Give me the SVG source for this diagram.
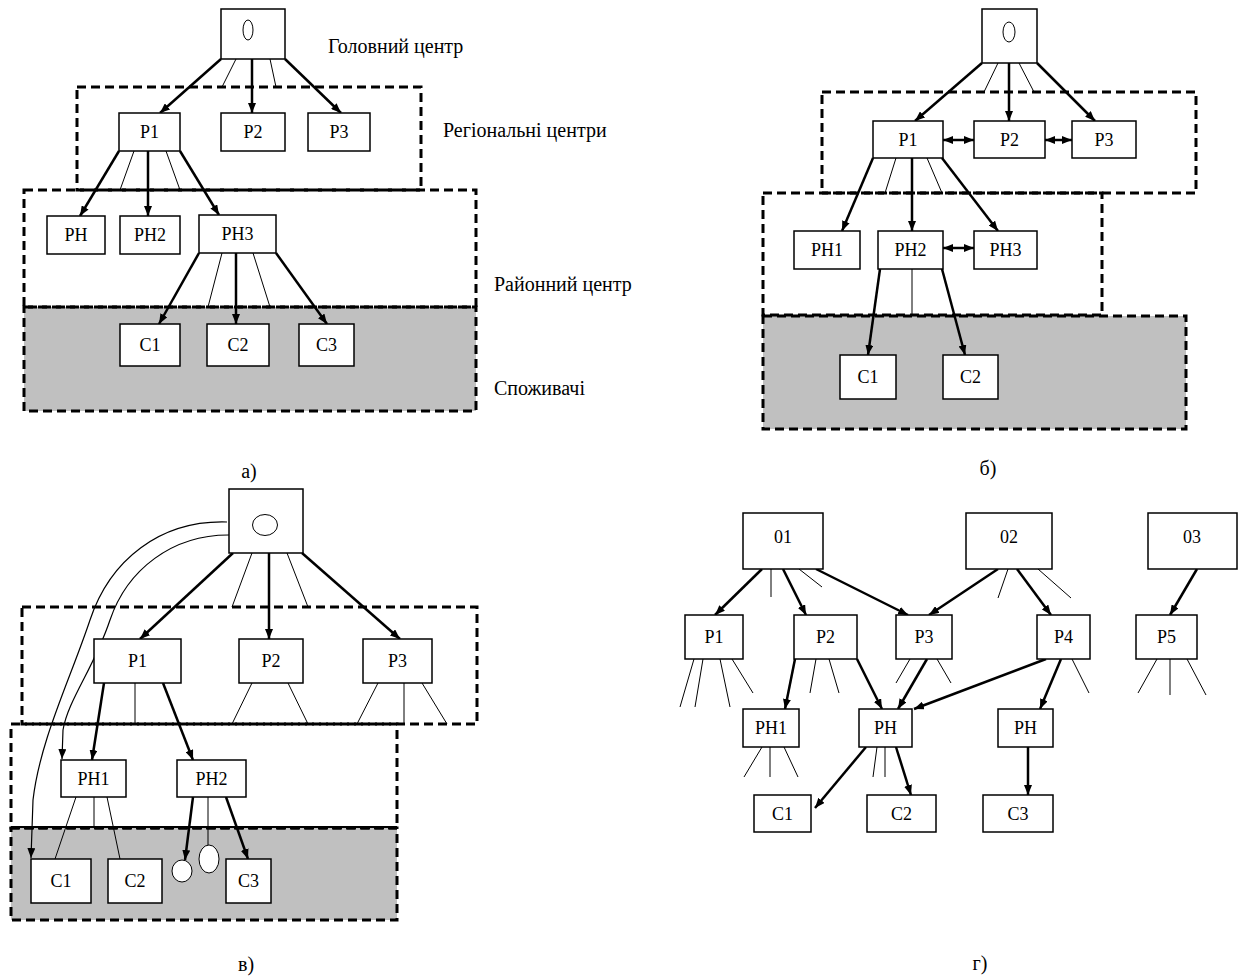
<svg xmlns="http://www.w3.org/2000/svg" width="1239" height="976" viewBox="0 0 1239 976">
<style>
.bx{fill:#fff;stroke:#000;stroke-width:1.5}
.t{font-family:"Liberation Serif",serif;font-size:18px;text-anchor:middle;fill:#000}
.side{font-family:"Liberation Serif",serif;font-size:20px;fill:#000}
.pl{font-family:"Liberation Serif",serif;font-size:20px;text-anchor:middle;fill:#000}
.th{stroke:#000;stroke-width:2.5;fill:none;marker-end:url(#ah)}
.cv{stroke:#000;stroke-width:1.2;fill:none;marker-end:url(#ah)}
.dbl{stroke:#000;stroke-width:2.5;fill:none;marker-end:url(#ah);marker-start:url(#ah)}
.tn{stroke:#000;stroke-width:1;fill:none}
.dash{fill:none;stroke:#000;stroke-width:3;stroke-dasharray:9 5}
.gray{fill:#c0c0c0}
.ov{fill:#fff;stroke:#000;stroke-width:1}
</style>
<defs>
<marker id="ah" viewBox="0 0 10 8" refX="10" refY="4" markerWidth="10" markerHeight="8" markerUnits="userSpaceOnUse" orient="auto-start-reverse">
<path d="M0,0 L10,4 L0,8 z" fill="#000"/>
</marker>
</defs>
<rect width="1239" height="976" fill="#fff"/>

<g id="regions">
<rect class="gray" x="24" y="307" width="452" height="104"/>
<rect class="dash" x="24" y="307" width="452" height="104"/>
<rect class="dash" x="24" y="190" width="452" height="117"/>
<rect class="dash" x="77" y="87" width="344" height="103"/>

<rect class="gray" x="763" y="316" width="423" height="113"/>
<rect class="dash" x="763" y="316" width="423" height="113"/>
<rect class="dash" x="763" y="193" width="339" height="122"/>
<rect class="dash" x="822" y="92" width="374" height="101"/>

<rect class="gray" x="11" y="828" width="386" height="92"/>
<rect class="dash" x="11" y="828" width="386" height="92"/>
<rect class="dash" x="11" y="724" width="386" height="104"/>
<line x1="11" y1="827" x2="397" y2="827" stroke="#000" stroke-width="2"/>
<rect class="dash" x="22" y="607" width="455" height="117"/>
</g>

<g id="labels">
<text class="side" x="328" y="53">Головний центр</text>
<text class="side" x="443" y="137">Регіональні центри</text>
<text class="side" x="494" y="291">Районний центр</text>
<text class="side" x="494" y="395">Споживачі</text>
<text class="pl" x="249" y="478">а)</text>
<text class="pl" x="988" y="475">б)</text>
<text class="pl" x="246" y="971">в)</text>
<text class="pl" x="980" y="970">г)</text>
</g>

<g id="connectors">
<line class="th" x1="221" y1="59" x2="160" y2="113"/>
<line class="th" x1="252" y1="59" x2="252" y2="113"/>
<line class="th" x1="285" y1="59" x2="341" y2="113"/>
<line class="tn" x1="236" y1="59" x2="222" y2="87"/>
<line class="tn" x1="270" y1="59" x2="276" y2="87"/>
<line class="th" x1="119" y1="151" x2="80" y2="216"/>
<line class="th" x1="148" y1="151" x2="148" y2="216"/>
<line class="th" x1="180" y1="151" x2="219" y2="215"/>
<line class="tn" x1="134" y1="151" x2="120" y2="190"/>
<line class="tn" x1="166" y1="151" x2="180" y2="190"/>
<line class="th" x1="199" y1="253" x2="159" y2="324"/>
<line class="th" x1="236" y1="253" x2="236" y2="324"/>
<line class="th" x1="276" y1="253" x2="327" y2="324"/>
<line class="tn" x1="222" y1="253" x2="208" y2="307"/>
<line class="tn" x1="253" y1="253" x2="270" y2="307"/>

<line class="th" x1="982" y1="63" x2="915" y2="121"/>
<line class="th" x1="1009" y1="63" x2="1009" y2="121"/>
<line class="th" x1="1037" y1="63" x2="1095" y2="121"/>
<line class="tn" x1="998" y1="63" x2="984" y2="92"/>
<line class="tn" x1="1019" y1="63" x2="1034" y2="92"/>
<line class="dbl" x1="943" y1="140" x2="974" y2="140"/>
<line class="dbl" x1="1045" y1="140" x2="1072" y2="140"/>
<line class="th" x1="873" y1="158" x2="842" y2="231"/>
<line class="th" x1="912" y1="158" x2="912" y2="231"/>
<line class="th" x1="942" y1="158" x2="998" y2="231"/>
<line class="tn" x1="896" y1="158" x2="885" y2="193"/>
<line class="tn" x1="927" y1="158" x2="942" y2="193"/>
<line class="dbl" x1="943" y1="248" x2="974" y2="248"/>
<line class="th" x1="880" y1="269" x2="868" y2="355"/>
<line class="th" x1="942" y1="269" x2="965" y2="355"/>
<line class="tn" x1="912" y1="269" x2="912" y2="315"/>

<line class="th" x1="233" y1="553" x2="140" y2="639"/>
<line class="th" x1="269" y1="553" x2="269" y2="639"/>
<line class="th" x1="302" y1="553" x2="400" y2="639"/>
<line class="tn" x1="252" y1="553" x2="232" y2="607"/>
<line class="tn" x1="287" y1="553" x2="308" y2="607"/>
<line class="th" x1="104" y1="683" x2="92" y2="760"/>
<line class="tn" x1="135" y1="683" x2="135" y2="724"/>
<line class="th" x1="163" y1="683" x2="193" y2="760"/>
<line class="tn" x1="252" y1="683" x2="232" y2="724"/>
<line class="tn" x1="288" y1="683" x2="308" y2="724"/>
<line class="tn" x1="378" y1="683" x2="357" y2="724"/>
<line class="tn" x1="404" y1="683" x2="404" y2="724"/>
<line class="tn" x1="422" y1="683" x2="447" y2="724"/>
<path class="cv" d="M227,522 C160,520 110,560 90,620 C70,680 40,740 33,800 L31,858"/>
<path class="cv" d="M231,535 C172,534 127,570 110,620 C94,668 68,700 63,730 L62,759"/>
<line class="tn" x1="76" y1="797" x2="55" y2="859"/>
<line class="tn" x1="94" y1="797" x2="94" y2="828"/>
<line class="tn" x1="107" y1="797" x2="120" y2="859"/>
<line class="th" x1="193" y1="797" x2="185" y2="860"/>
<line class="tn" x1="208" y1="797" x2="208" y2="845"/>
<line class="th" x1="226" y1="797" x2="248" y2="859"/>

<line class="th" x1="762" y1="569" x2="715" y2="615"/>
<line class="th" x1="783" y1="569" x2="806" y2="615"/>
<line class="th" x1="816" y1="569" x2="908" y2="615"/>
<line class="th" x1="998" y1="569" x2="929" y2="615"/>
<line class="th" x1="1017" y1="569" x2="1051" y2="615"/>
<line class="th" x1="1197" y1="569" x2="1170" y2="615"/>
<line class="tn" x1="771" y1="569" x2="771" y2="597"/>
<line class="tn" x1="799" y1="569" x2="822" y2="587"/>
<line class="tn" x1="1008" y1="569" x2="998" y2="598"/>
<line class="tn" x1="1038" y1="569" x2="1071" y2="598"/>
<line class="th" x1="795" y1="659" x2="785" y2="709"/>
<line class="th" x1="857" y1="659" x2="882" y2="709"/>
<line class="th" x1="927" y1="659" x2="898" y2="709"/>
<line class="th" x1="1046" y1="659" x2="914" y2="709"/>
<line class="th" x1="1061" y1="659" x2="1040" y2="709"/>
<line class="tn" x1="694" y1="659" x2="680" y2="707"/>
<line class="tn" x1="703" y1="659" x2="695" y2="707"/>
<line class="tn" x1="720" y1="659" x2="730" y2="707"/>
<line class="tn" x1="732" y1="659" x2="753" y2="693"/>
<line class="tn" x1="816" y1="659" x2="810" y2="693"/>
<line class="tn" x1="829" y1="659" x2="839" y2="693"/>
<line class="tn" x1="910" y1="659" x2="896" y2="683"/>
<line class="tn" x1="937" y1="659" x2="951" y2="683"/>
<line class="tn" x1="1072" y1="659" x2="1089" y2="693"/>
<line class="tn" x1="1157" y1="659" x2="1138" y2="693"/>
<line class="tn" x1="1170" y1="659" x2="1170" y2="695"/>
<line class="tn" x1="1187" y1="659" x2="1206" y2="695"/>
<line class="tn" x1="762" y1="747" x2="744" y2="777"/>
<line class="tn" x1="770" y1="747" x2="770" y2="777"/>
<line class="tn" x1="784" y1="747" x2="798" y2="777"/>
<line class="tn" x1="877" y1="747" x2="873" y2="777"/>
<line class="tn" x1="885" y1="747" x2="885" y2="777"/>
<line class="th" x1="866" y1="747" x2="815" y2="808"/>
<line class="th" x1="896" y1="747" x2="911" y2="795"/>
<line class="th" x1="1028" y1="747" x2="1028" y2="795"/>
</g>

<g id="a_O"><rect class="bx" x="221" y="9" width="64" height="50"/><ellipse class="ov" cx="248" cy="30" rx="5" ry="10"/></g>
<g id="a_P1"><rect class="bx" x="119" y="113" width="61" height="38"/><text class="t" x="149.5" y="138">Р1</text></g>
<g id="a_P2"><rect class="bx" x="221" y="113" width="64" height="38"/><text class="t" x="253" y="138">Р2</text></g>
<g id="a_P3"><rect class="bx" x="308" y="113" width="62" height="38"/><text class="t" x="339" y="138">Р3</text></g>
<g id="a_PH"><rect class="bx" x="47" y="216" width="58" height="38"/><text class="t" x="76" y="241">РН</text></g>
<g id="a_PH2"><rect class="bx" x="120" y="216" width="60" height="38"/><text class="t" x="150" y="241">РН2</text></g>
<g id="a_PH3"><rect class="bx" x="199" y="215" width="77" height="38"/><text class="t" x="237.5" y="240">РН3</text></g>
<g id="a_C1"><rect class="bx" x="120" y="324" width="60" height="42"/><text class="t" x="150" y="351">С1</text></g>
<g id="a_C2"><rect class="bx" x="207" y="324" width="62" height="42"/><text class="t" x="238" y="351">С2</text></g>
<g id="a_C3"><rect class="bx" x="299" y="324" width="55" height="42"/><text class="t" x="326.5" y="351">С3</text></g>

<g id="b_O"><rect class="bx" x="982" y="9" width="55" height="54"/><ellipse class="ov" cx="1009" cy="32" rx="6" ry="10"/></g>
<g id="b_P1"><rect class="bx" x="873" y="121" width="70" height="37"/><text class="t" x="908" y="146">Р1</text></g>
<g id="b_P2"><rect class="bx" x="974" y="121" width="71" height="37"/><text class="t" x="1009.5" y="146">Р2</text></g>
<g id="b_P3"><rect class="bx" x="1072" y="121" width="64" height="37"/><text class="t" x="1104" y="146">Р3</text></g>
<g id="b_PH1"><rect class="bx" x="794" y="231" width="66" height="38"/><text class="t" x="827" y="256">РН1</text></g>
<g id="b_PH2"><rect class="bx" x="878" y="231" width="65" height="38"/><text class="t" x="910.5" y="256">РН2</text></g>
<g id="b_PH3"><rect class="bx" x="974" y="231" width="63" height="38"/><text class="t" x="1005.5" y="256">РН3</text></g>
<g id="b_C1"><rect class="bx" x="840" y="355" width="56" height="44"/><text class="t" x="868" y="383">С1</text></g>
<g id="b_C2"><rect class="bx" x="943" y="355" width="55" height="44"/><text class="t" x="970.5" y="383">С2</text></g>

<g id="c_O"><rect class="bx" x="229" y="489" width="74" height="64"/><ellipse class="ov" cx="265" cy="525" rx="12.5" ry="10.5"/></g>
<g id="c_P1"><rect class="bx" x="94" y="639" width="87" height="44"/><text class="t" x="137.5" y="667">Р1</text></g>
<g id="c_P2"><rect class="bx" x="239" y="639" width="64" height="44"/><text class="t" x="271" y="667">Р2</text></g>
<g id="c_P3"><rect class="bx" x="363" y="639" width="69" height="44"/><text class="t" x="397.5" y="667">Р3</text></g>
<g id="c_PH1"><rect class="bx" x="61" y="760" width="65" height="37"/><text class="t" x="93.5" y="785">РН1</text></g>
<g id="c_PH2"><rect class="bx" x="177" y="760" width="69" height="37"/><text class="t" x="211.5" y="785">РН2</text></g>
<g id="c_C1"><rect class="bx" x="31" y="859" width="60" height="44"/><text class="t" x="61" y="887">С1</text></g>
<g id="c_C2"><rect class="bx" x="108" y="859" width="54" height="44"/><text class="t" x="135" y="887">С2</text></g>
<g id="c_C3"><rect class="bx" x="226" y="859" width="45" height="44"/><text class="t" x="248.5" y="887">С3</text></g>
<g id="c_e1"><ellipse class="ov" cx="182" cy="871" rx="10" ry="11"/></g>
<g id="c_e2"><ellipse class="ov" cx="209" cy="859" rx="10" ry="14"/></g>

<g id="d_01"><rect class="bx" x="743" y="513" width="80" height="56"/><text class="t" x="783" y="543">01</text></g>
<g id="d_02"><rect class="bx" x="966" y="513" width="86" height="56"/><text class="t" x="1009" y="543">02</text></g>
<g id="d_03"><rect class="bx" x="1148" y="513" width="89" height="56"/><text class="t" x="1192" y="543">03</text></g>
<g id="d_P1"><rect class="bx" x="685" y="615" width="58" height="44"/><text class="t" x="714" y="643">Р1</text></g>
<g id="d_P2"><rect class="bx" x="794" y="615" width="63" height="44"/><text class="t" x="825.5" y="643">Р2</text></g>
<g id="d_P3"><rect class="bx" x="896" y="615" width="56" height="44"/><text class="t" x="924" y="643">Р3</text></g>
<g id="d_P4"><rect class="bx" x="1037" y="615" width="53" height="44"/><text class="t" x="1063.5" y="643">Р4</text></g>
<g id="d_P5"><rect class="bx" x="1136" y="615" width="61" height="44"/><text class="t" x="1166.5" y="643">Р5</text></g>
<g id="d_PH1"><rect class="bx" x="743" y="709" width="56" height="38"/><text class="t" x="771" y="734">РН1</text></g>
<g id="d_PH"><rect class="bx" x="859" y="709" width="53" height="38"/><text class="t" x="885.5" y="734">РН</text></g>
<g id="d_PHr"><rect class="bx" x="998" y="709" width="55" height="38"/><text class="t" x="1025.5" y="734">РН</text></g>
<g id="d_C1"><rect class="bx" x="754" y="795" width="57" height="37"/><text class="t" x="782.5" y="820">С1</text></g>
<g id="d_C2"><rect class="bx" x="867" y="795" width="69" height="37"/><text class="t" x="901.5" y="820">С2</text></g>
<g id="d_C3"><rect class="bx" x="983" y="795" width="70" height="37"/><text class="t" x="1018" y="820">С3</text></g>
</svg>
